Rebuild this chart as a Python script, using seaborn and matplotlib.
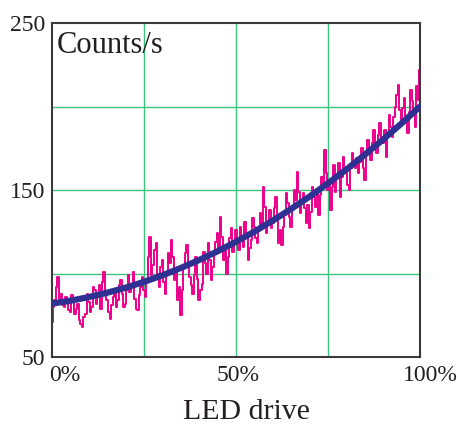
import numpy as np
import pandas as pd
import matplotlib
matplotlib.use("Agg")
import matplotlib.pyplot as plt
import matplotlib.transforms as mtransforms
import seaborn as sns

# ---- data ----
measured_counts = [
    71, 80, 84, 92, 98, 85, 88, 81, 80, 86, 83, 78, 77, 87, 84, 76, 79, 82, 72, 70,
    68, 74, 76, 88, 83, 77, 80, 92, 90, 82, 86, 93, 79, 95, 101, 88, 84, 77, 73, 81,
    86, 91, 80, 84, 93, 96, 88, 80, 82, 90, 99, 89, 94, 101, 85, 79, 78, 87, 92, 98,
    90, 86, 97, 110, 122, 99, 105, 114, 118, 100, 92, 104, 108, 95, 88, 101, 112, 106, 120, 110,
    96, 103, 84, 92, 75, 90, 104, 112, 117, 106, 98, 93, 88, 99, 110, 97, 84, 90, 94, 113,
    106, 100, 118, 108, 96, 104, 112, 119, 124, 115, 134, 122, 108, 115, 100, 110, 121, 127, 113, 119,
    126, 119, 114, 128, 122, 116, 131, 124, 108, 115, 120, 133, 128, 121, 118, 126, 136, 129, 152, 140,
    124, 131, 138, 127, 130, 139, 146, 133, 118, 126, 117, 128, 135, 148, 142, 134, 128, 140, 150, 144,
    161, 149, 136, 142, 148, 139, 130, 141, 127, 137, 152, 146, 140, 149, 135, 147, 158, 151, 174, 160,
    150, 156, 138, 152, 165, 149, 158, 166, 146, 158, 170, 162, 160, 153, 150, 163, 172, 165, 163, 169,
    160, 167, 175, 163, 156, 171, 180, 174, 168, 178, 186, 177, 172, 183, 190, 181, 178, 186, 170, 182,
    195, 188, 182, 194, 200, 207, 213, 198, 190, 199, 205, 192, 184, 197, 210, 203, 196, 188, 212, 204,
    222,
]
fit_drive = [0, 5, 10, 15, 20, 25, 30, 35, 40, 45, 50,
             55, 60, 65, 70, 75, 80, 85, 90, 95, 100]
fit_counts = [82, 83.7, 85.9, 88.5, 91.5, 95, 98.9, 103.3, 108.1, 113.3, 119,
              125.1, 131.7, 138.7, 146.1, 154, 162.3, 171.1, 180.3, 189.9, 200]
measured_drive = np.linspace(0, 100, len(measured_counts))

x_ticks = [0, 50, 100]
x_tick_labels = ["0%", "50%", "100%"]
y_ticks = [50, 150, 250]
y_tick_labels = ["50", "150", "250"]

df_meas = pd.DataFrame({"drive": measured_drive, "counts": measured_counts})
df_fit = pd.DataFrame({"drive": fit_drive, "counts": fit_counts})

# ---- style ----
sns.set_style("white")
plt.rcParams["font.family"] = ["Liberation Serif", "DejaVu Serif"]
text_col = "#231f20"
grid_col = "#3cc47c"
magenta = "#ec008c"
navy = "#2e3192"

fig = plt.figure(figsize=(4.58, 4.32), dpi=100)
ax = fig.add_axes([52 / 458, 75 / 432, 368 / 458, 334 / 432])

# grid
for gx in [25, 50, 75]:
    ax.axvline(gx, color=grid_col, lw=1.0, zorder=0)
for gy in [100, 150, 200]:
    ax.axhline(gy, color=grid_col, lw=1.0, zorder=0)

sns.lineplot(data=df_meas, x="drive", y="counts", ax=ax, color=magenta,
             lw=1.4, drawstyle="steps-mid", zorder=2, legend=False)
sns.lineplot(data=df_fit, x="drive", y="counts", ax=ax, color=navy,
             lw=4.5, marker="s", markersize=3.5, markeredgewidth=0,
             zorder=3, legend=False)

ax.set_xlim(0, 100)
ax.set_ylim(50, 250)
ax.set_xticks(x_ticks)
ax.set_xticklabels(x_tick_labels)
ax.set_yticks(y_ticks)
ax.set_yticklabels(y_tick_labels)
ax.tick_params(axis="both", length=0, labelsize=17, colors=text_col)
ax.tick_params(axis="x", pad=6)
ax.tick_params(axis="y", pad=5)

# nudge x tick labels as in reference
offsets = [13, 2, 10]
for lab, off in zip(ax.get_xticklabels(), offsets):
    lab.set_transform(lab.get_transform() +
                      mtransforms.ScaledTranslation(off / 100, 0, fig.dpi_scale_trans))

ax.set_xlabel("")
ax.set_ylabel("")
fig.text(246 / 458, 1 - 412 / 432, "LED drive", ha="center", va="center",
         fontsize=21.5, color=text_col)
ax.text(0.014, 0.975, "Counts/s", transform=ax.transAxes, ha="left", va="top",
        fontsize=22, color=text_col)

for sp in ax.spines.values():
    sp.set_visible(True)
    sp.set_color("#3a3a3a")
    sp.set_linewidth(1.5)

fig.savefig("out.png", dpi=100, facecolor="white")
